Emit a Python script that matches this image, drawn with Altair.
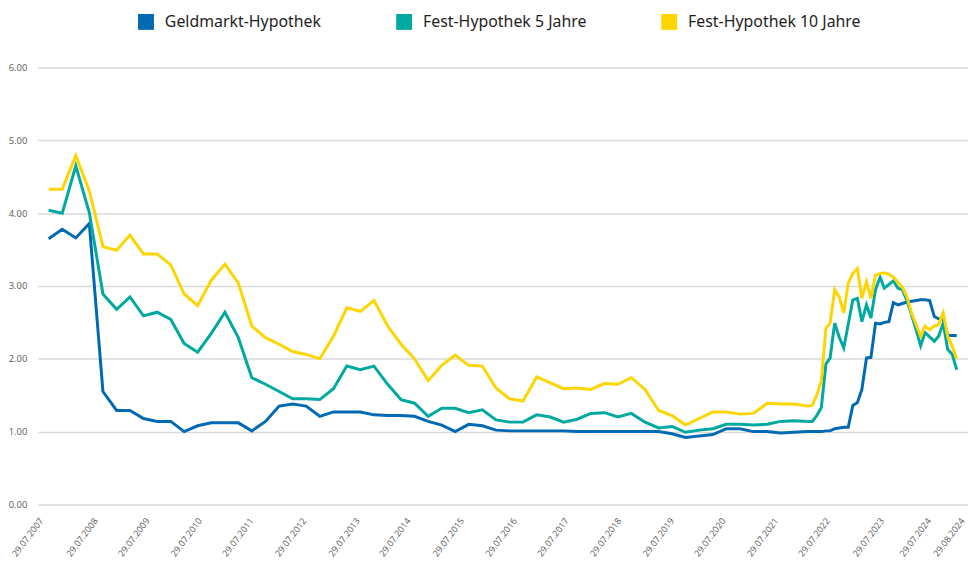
import altair as alt
import pandas as pd

# ---------------- data ----------------
series_names = ["Geldmarkt-Hypothek", "Fest-Hypothek 5 Jahre", "Fest-Hypothek 10 Jahre"]
series_colors = ["#0069b4", "#00a9a0", "#fed500"]

dates = [
    "2007-10-01", "2008-01-01", "2008-04-01", "2008-07-01", "2008-10-01", "2009-01-01", "2009-04-01",
    "2009-07-01", "2009-10-01", "2010-01-01", "2010-04-01", "2010-07-01", "2010-10-01", "2011-01-01",
    "2011-04-01", "2011-07-01", "2011-10-01", "2012-01-01", "2012-04-01", "2012-07-01", "2012-10-01",
    "2013-01-01", "2013-04-01", "2013-07-01", "2013-10-01", "2014-01-01", "2014-04-01", "2014-07-01",
    "2014-10-01", "2015-01-01", "2015-04-01", "2015-07-01", "2015-10-01", "2016-01-01", "2016-04-01",
    "2016-07-01", "2016-10-01", "2017-01-01", "2017-04-01", "2017-07-01", "2017-10-01", "2018-01-01",
    "2018-04-01", "2018-07-01", "2018-10-01", "2019-01-01", "2019-04-01", "2019-07-01", "2019-10-01",
    "2020-01-01", "2020-04-01", "2020-07-01", "2020-10-01", "2021-01-01", "2021-04-01", "2021-07-01",
    "2021-10-01", "2021-11-01", "2021-12-01", "2022-01-01", "2022-02-01", "2022-03-01", "2022-04-01",
    "2022-05-01", "2022-06-01", "2022-07-01", "2022-08-01", "2022-09-01", "2022-10-01", "2022-11-01",
    "2022-12-01", "2023-01-01", "2023-02-01", "2023-03-01", "2023-04-01", "2023-05-01", "2023-06-01",
    "2023-07-01", "2023-08-01", "2023-09-01", "2023-10-01", "2023-11-01", "2023-12-01", "2024-01-01",
    "2024-02-01", "2024-03-01", "2024-04-01", "2024-05-01", "2024-06-01", "2024-07-01",
]

geldmarkt = [
    3.65, 3.78, 3.66, 3.86, 1.55, 1.29, 1.29, 1.18, 1.14, 1.14,
    1.00, 1.08, 1.12, 1.12, 1.12, 1.01, 1.14, 1.35, 1.38, 1.35,
    1.21, 1.27, 1.27, 1.27, 1.23, 1.22, 1.22, 1.21, 1.14, 1.09,
    1.00, 1.10, 1.08, 1.02, 1.01, 1.01, 1.01, 1.01, 1.01, 1.00,
    1.00, 1.00, 1.00, 1.00, 1.00, 1.00, 0.97, 0.92, 0.94, 0.96,
    1.04, 1.04, 1.00, 1.00, 0.98, 0.99,
    1.00, 1.00, 1.00, 1.00, 1.01, 1.01, 1.04, 1.05, 1.06, 1.06,
    1.36, 1.40, 1.58, 2.01, 2.02, 2.49, 2.48, 2.50, 2.51, 2.77,
    2.74, 2.76, 2.78, 2.79, 2.80, 2.81, 2.81, 2.80, 2.58, 2.55,
    2.55, 2.32, 2.32, 2.32,
]

fest_5 = [
    4.04, 4.00, 4.65, 4.01, 2.89, 2.68, 2.85, 2.59, 2.64, 2.54,
    2.21, 2.09, 2.35, 2.64, 2.29, 1.74, 1.65, 1.55, 1.45, 1.45,
    1.44, 1.59, 1.90, 1.85, 1.90, 1.65, 1.44, 1.39, 1.21, 1.32,
    1.32, 1.26, 1.30, 1.16, 1.13, 1.13, 1.23, 1.20, 1.13, 1.17,
    1.25, 1.26, 1.20, 1.25, 1.13, 1.05, 1.07, 0.99, 1.02, 1.04,
    1.10, 1.10, 1.09, 1.10, 1.14, 1.15,
    1.14, 1.14, 1.22, 1.33, 1.93, 2.01, 2.49, 2.30, 2.15, 2.47,
    2.81, 2.83, 2.51, 2.74, 2.56, 2.95, 3.12, 2.97, 3.02, 3.07,
    2.97, 2.95, 2.80, 2.60, 2.40, 2.18, 2.36, 2.30, 2.24, 2.31,
    2.49, 2.13, 2.06, 1.85,
]

fest_10 = [
    4.33, 4.33, 4.79, 4.31, 3.54, 3.49, 3.70, 3.44, 3.44, 3.29,
    2.89, 2.73, 3.08, 3.30, 3.04, 2.45, 2.29, 2.20, 2.10, 2.06,
    2.00, 2.31, 2.70, 2.65, 2.80, 2.45, 2.20, 2.00, 1.70, 1.91,
    2.05, 1.91, 1.90, 1.60, 1.45, 1.42, 1.75, 1.67, 1.59, 1.60,
    1.58, 1.66, 1.65, 1.74, 1.58, 1.29, 1.22, 1.09, 1.18, 1.27,
    1.27, 1.24, 1.25, 1.39, 1.38, 1.38,
    1.35, 1.36, 1.50, 1.70, 2.42, 2.49, 2.95, 2.85, 2.63, 3.04,
    3.17, 3.24, 2.83, 3.06, 2.83, 3.15, 3.17, 3.18, 3.16, 3.12,
    3.05, 2.98, 2.85, 2.63, 2.47, 2.31, 2.45, 2.40, 2.45, 2.47,
    2.63, 2.31, 2.17, 2.00,
]

# axis labels as printed in the original, and where they sit on the time axis
tick_labels = [
    "29.07.2007", "29.07.2008", "29.07.2009", "29.07.2010", "29.07.2011", "29.07.2012",
    "29.07.2013", "29.07.2014", "29.07.2015", "29.07.2016", "29.07.2017", "29.07.2018",
    "29.07.2019", "29.07.2020", "29.07.2021", "29.07.2022", "29.07.2023", "29.07.2024",
    "29.08.2024",
]
tick_dates = [
    "2007-07-20", "2008-07-21", "2009-07-04", "2010-06-24", "2011-06-06", "2012-05-26",
    "2013-05-22", "2014-04-28", "2015-04-24", "2016-04-13", "2017-03-28", "2018-03-18",
    "2019-03-08", "2020-02-18", "2021-02-08", "2022-01-20", "2023-01-22", "2023-12-03",
    "2024-07-17",
]
x_domain = ["2007-07-20", "2024-09-15"]
y_ticks = [0, 1, 2, 3, 4, 5, 6]


def ms(s):
    return int(pd.Timestamp(s, tz="UTC").value // 10**6)


rows = []
for name, vals in zip(series_names, [geldmarkt, fest_5, fest_10]):
    for d, v in zip(dates, vals):
        rows.append({"Datum": d, "Serie": name, "Wert": v})
df = pd.DataFrame(rows)

tick_ms = [ms(d) for d in tick_dates]
label_expr = "(" + "{" + ",".join(
    f"'{t}':'{lab}'" for t, lab in zip(tick_ms, tick_labels)
) + "})[''+time(datum.value)]"

x_axis = alt.Axis(
    values=tick_ms,
    labelExpr=label_expr,
    labelAngle=-53,
    labelAlign="right",
    labelBaseline="top",
    labelFont="Open Sans",
    labelFontSize=9,
    labelColor="#595959",
    labelPadding=12,
    labelOverlap=False,
    labelFlush=False,
    grid=False,
    ticks=False,
    tickSize=0,
    domain=False,
    title=None,
)

y_axis = alt.Axis(
    values=y_ticks,
    format=".2f",
    labelFont="Open Sans",
    labelFontSize=9.5,
    labelColor="#595959",
    labelPadding=11,
    grid=True,
    gridColor="#d9d9d9",
    gridWidth=1.5,
    ticks=False,
    tickSize=0,
    domain=False,
    title=None,
)

x_enc = alt.X("Datum:T", scale=alt.Scale(domain=[ms(x_domain[0]), ms(x_domain[1])]), axis=x_axis)
y_enc = alt.Y("Wert:Q", scale=alt.Scale(domain=[0, 6], nice=False), axis=y_axis)

line_layers = [
    alt.Chart(df)
    .transform_filter(alt.datum.Serie == name)
    .mark_line(color=col, strokeWidth=3)
    .encode(x=x_enc, y=y_enc)
    for name, col in zip(series_names, series_colors)
]

legend_layer = (
    alt.Chart(df)
    .transform_filter("false")
    .mark_square(size=256)
    .encode(
        fill=alt.Fill(
            "Serie:N",
            scale=alt.Scale(domain=series_names, range=series_colors),
            legend=alt.Legend(
                orient="none",
                legendX=101,
                legendY=-54,
                direction="horizontal",
                columns=3,
                title=None,
                symbolType="square",
                symbolSize=256,
                symbolStrokeWidth=0,
                symbolOpacity=1,
                labelFont="Noto Sans",
                labelFontSize=16,
                labelColor="#1e1e1e",
                labelOffset=11,
                columnPadding=75,
                padding=0,
                labelLimit=400,
            ),
        ),
    )
)

chart = (
    alt.layer(*line_layers, legend_layer)
    .properties(
        width=937,
        height=440,
        padding={"left": 30, "top": 58, "right": 0, "bottom": 56},
        autosize=alt.AutoSizeParams(type="none"),
        background="white",
    )
    .configure_view(stroke=None)
)

chart.save("out.html", embed_options={"renderer": "svg", "actions": False})
